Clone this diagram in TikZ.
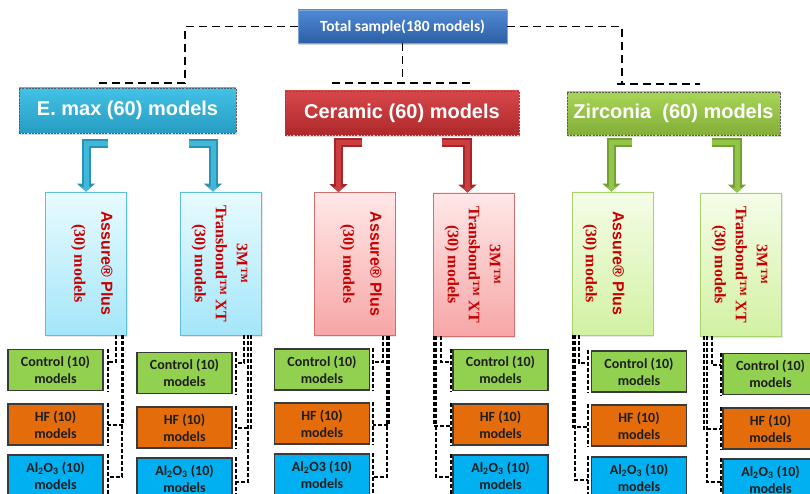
\documentclass[tikz,border=0pt]{standalone}
\usepackage{fontspec}
\setmainfont{Liberation Serif}
\newfontfamily\arialf{Liberation Sans}
\newfontfamily\calf{Carlito}
\usetikzlibrary{arrows.meta,shadows,calc}
\definecolor{topT}{HTML}{4F8AD6}
\definecolor{topB}{HTML}{2D5FA3}
\definecolor{topD}{HTML}{7AA6DE}
\definecolor{emT}{HTML}{42C2E6}
\definecolor{emB}{HTML}{279CC2}
\definecolor{ceT}{HTML}{D6474A}
\definecolor{ceB}{HTML}{AE292B}
\definecolor{zrT}{HTML}{A8D557}
\definecolor{zrB}{HTML}{84AE38}
\definecolor{mcT}{HTML}{E8FBFF}
\definecolor{mcB}{HTML}{A4E6F9}
\definecolor{mcD}{HTML}{5EBFDC}
\definecolor{mrT}{HTML}{FFE8E8}
\definecolor{mrB}{HTML}{F7A6A6}
\definecolor{mrD}{HTML}{D46E6E}
\definecolor{mgT}{HTML}{F5FDE8}
\definecolor{mgB}{HTML}{D2F1A2}
\definecolor{mgD}{HTML}{A6D26E}
\definecolor{redtxt}{HTML}{C80000}
\definecolor{ctrlF}{HTML}{92D050}
\definecolor{hfF}{HTML}{E46C0A}
\definecolor{alF}{HTML}{00B0F0}
\definecolor{boxL}{HTML}{3A3A3A}
\definecolor{txtD}{HTML}{1E1E1E}
\definecolor{acD}{HTML}{2A92B4}
\definecolor{acL}{HTML}{3FB8DA}
\definecolor{arD}{HTML}{A42628}
\definecolor{arL}{HTML}{CC3D40}
\definecolor{agD}{HTML}{72A032}
\definecolor{agL}{HTML}{92C446}
\begin{document}
\begin{tikzpicture}[x=1pt,y=-1pt,
  topbox/.style={rectangle, top color=topT, bottom color=topB, draw=topD, line width=0.6pt,
    minimum width=209pt, minimum height=33pt, inner sep=0pt, text=white,
    font=\calf\bfseries\fontsize{15.5}{18}\selectfont,
    drop shadow={opacity=0.35, shadow xshift=1pt, shadow yshift=-2pt}},
  grpbox/.style 2 args={rectangle, top color=#1, bottom color=#2, draw=black!65,
    line width=0.8pt, dash pattern=on 2pt off 1.2pt, inner sep=0pt, text=white,
    font=\arialf\bfseries\fontsize{20}{24}\selectfont,
    drop shadow={opacity=0.3, shadow xshift=1pt, shadow yshift=-2pt}},
  midbox/.style n args={3}{rectangle, top color=#1, bottom color=#2, draw=#3,
    line width=0.9pt, minimum width=81pt, minimum height=143pt, inner sep=0pt,
    drop shadow={opacity=0.2, shadow xshift=1pt, shadow yshift=-1.5pt}},
  assuretxt/.style={rotate=-90, align=center, text=redtxt, inner sep=0pt,
    font=\bfseries\fontsize{16}{19}\selectfont},
  transtxt/.style={rotate=-90, align=center, text=redtxt, inner sep=0pt,
    font=\bfseries\fontsize{16}{21}\selectfont},
  smallbox/.style={rectangle, fill=#1, draw=boxL, line width=1.2pt,
    minimum width=95pt, minimum height=41pt, inner sep=0pt, align=center,
    text=txtD, font=\calf\bfseries\fontsize{14}{17}\selectfont},
  dtop/.style={draw=black, line width=1.8pt, dash pattern=on 8pt off 5pt},
  dlow/.style={draw=black, line width=1.4pt, dash pattern=on 4pt off 2pt},
  barr/.style 2 args={draw=#1, line width=9pt, line join=miter,
    -{Triangle[width=18pt,length=8pt]},
    postaction={draw=#2, line width=5pt, line join=miter, -{Triangle[width=10pt,length=5pt]}}}
]
\useasboundingbox (0,0) rectangle (810,494);

% top node
\node[topbox] (top) at (402.5,26.5) {Total sample(180 models)};

% group nodes
\node[grpbox={emT}{emB}, minimum width=217pt, minimum height=45pt] (emax) at (127.5,110.5) {E. max (60) models};
\node[grpbox={ceT}{ceB}, minimum width=234pt, minimum height=44pt] (cer) at (402,113) {Ceramic (60) models};
\node[grpbox={zrT}{zrB}, minimum width=213pt, minimum height=43pt] (zir) at (673.5,113.5) {Zirconia\ \ (60) models};

% top connectors
\coordinate (tl) at (185,83);
\coordinate (tr) at (622,84);
\coordinate (tm) at (402.5,83);
\draw[dtop] (top.west) -| (tl) -- (98,83);
\draw[dtop] (top.east) -| (tr);
\draw[dtop] (617,84) -- (700,84);
\draw[dtop] (top.south) -- (tm);
\draw[dtop] (332,83) -- (473,83);

% middle boxes
\node[midbox={mcT}{mcB}{mcD}] (m1) at (86,263.5) {};
\node[midbox={mcT}{mcB}{mcD}] (m2) at (221,263.5) {};
\node[midbox={mrT}{mrB}{mrD}] (m3) at (354.5,264) {};
\node[midbox={mrT}{mrB}{mrD}] (m4) at (473.5,264.5) {};
\node[midbox={mgT}{mgB}{mgD}] (m5) at (612.5,263.5) {};
\node[midbox={mgT}{mgB}{mgD}] (m6) at (741,264.5) {};

\node[assuretxt] (t1) at ([xshift=6pt]m1.center) {{\arialf Assure® Plus}\\[8pt](30) models};
\node[assuretxt] (t3) at ([xshift=6.5pt]m3.center) {{\arialf Assure® Plus}\\[8pt](30) models};
\node[assuretxt] (t5) at ([xshift=-9pt]m5.center) {{\arialf Assure® Plus}\\[8pt](30) models};
\node[transtxt] (t2) at ([xshift=-1.5pt]m2.center) {3M™\\Transbond™ XT\\(30) models};
\node[transtxt] (t4) at ([xshift=-1pt]m4.center) {3M™\\Transbond™ XT\\(30) models};
\node[transtxt] (t6) at ([xshift=-1.5pt]m6.center) {3M™\\Transbond™ XT\\(30) models};

% bent arrows
\coordinate (s1) at (108,144);
\coordinate (s2) at (189,144);
\coordinate (s3) at (362,143);
\coordinate (s4) at (442,143);
\coordinate (s5) at (632,143);
\coordinate (s6) at (712,143);
\draw[barr={acD}{acL}] (s1) -| (m1.north);
\draw[barr={acD}{acL}] (s2) -| ([xshift=-8pt]m2.north);
\draw[barr={arD}{arL}] (s3) -| ([xshift=-16pt]m3.north);
\draw[barr={arD}{arL}] (s4) -| ([xshift=-6pt]m4.north);
\draw[barr={agD}{agL}] (s5) -| ([xshift=-1pt]m5.north);
\draw[barr={agD}{agL}] (s6) -| ([xshift=-4pt]m6.north);

% small boxes
\node[smallbox=ctrlF] (c1) at (55.5,370) {Control (10)\\models};
\node[smallbox=hfF] (h1) at (55.5,424.5) {HF (10)\\models};
\node[smallbox=alF] (a1) at (55.5,475.5) {Al\textsubscript{2}O\textsubscript{3} (10)\\models};

\node[smallbox=ctrlF] (c2) at (184.5,373) {Control (10)\\models};
\node[smallbox=hfF] (h2) at (184.5,427.5) {HF (10)\\models};
\node[smallbox=alF] (a2) at (184.5,478.5) {Al\textsubscript{2}O\textsubscript{3} (10)\\models};

\node[smallbox=ctrlF] (c3) at (322,369.5) {Control (10)\\models};
\node[smallbox=hfF] (h3) at (322,423.5) {HF (10)\\models};
\node[smallbox=alF] (a3) at (322,474.5) {Al\textsubscript{2}O3 (10)\\models};

\node[smallbox=ctrlF] (c4) at (500.5,370) {Control (10)\\models};
\node[smallbox=hfF] (h4) at (500.5,424.5) {HF (10)\\models};
\node[smallbox=alF] (a4) at (500.5,475.5) {Al\textsubscript{2}O\textsubscript{3} (10)\\models};

\node[smallbox=ctrlF] (c5) at (639,371.5) {Control (10)\\models};
\node[smallbox=hfF] (h5) at (639,425.5) {HF (10)\\models};
\node[smallbox=alF] (a5) at (639,477.5) {Al\textsubscript{2}O\textsubscript{3} (10)\\models};

\node[smallbox=ctrlF] (c6) at (770.5,374) {Control (10)\\models};
\node[smallbox=hfF] (h6) at (770.5,428.5) {HF (10)\\models};
\node[smallbox=alF] (a6) at (770.5,479.5) {Al\textsubscript{2}O\textsubscript{3} (10)\\models};

% dashed brackets and elbow connectors
\foreach \m/\c/\h/\a/\da/\db/\dl/\bx/\yc/\yh/\ya in {
  m1/c1/h1/a1/30/37/36/108/362/425/477,
  m2/c2/h2/a2/23/30/27/236/363/428/482,
  m3/c3/h3/a3/28.5/34.5/32.5/373/362/425/477,
  m4/c4/h4/a4/-32.5/-39.5/-37.5/451/362/426/477,
  m5/c5/h5/a5/-33.5/-39.5/-37.5/588/363/427/480,
  m6/c6/h6/a6/-29/-37/-34/721/365/429/482}{
  \draw[dlow] (\c.north -| \bx,0) -- (\c.south -| \bx,0);
  \draw[dlow] (\h.north -| \bx,0) -- (\h.south -| \bx,0);
  \draw[dlow] (\a.north -| \bx,0) -- (\a.south -| \bx,0);
  \coordinate (jc) at (\bx,\yc);
  \coordinate (jh) at (\bx,\yh);
  \coordinate (ja) at (\bx,\ya);
  \draw[dlow] ([xshift=\da pt]\m.south) |- (jc);
  \draw[dlow] ([xshift=\db pt]\m.south) |- (jh);
  \draw[dlow] ([xshift=\dl pt]\m.south) |- (ja);
}
\end{tikzpicture}
\end{document}
